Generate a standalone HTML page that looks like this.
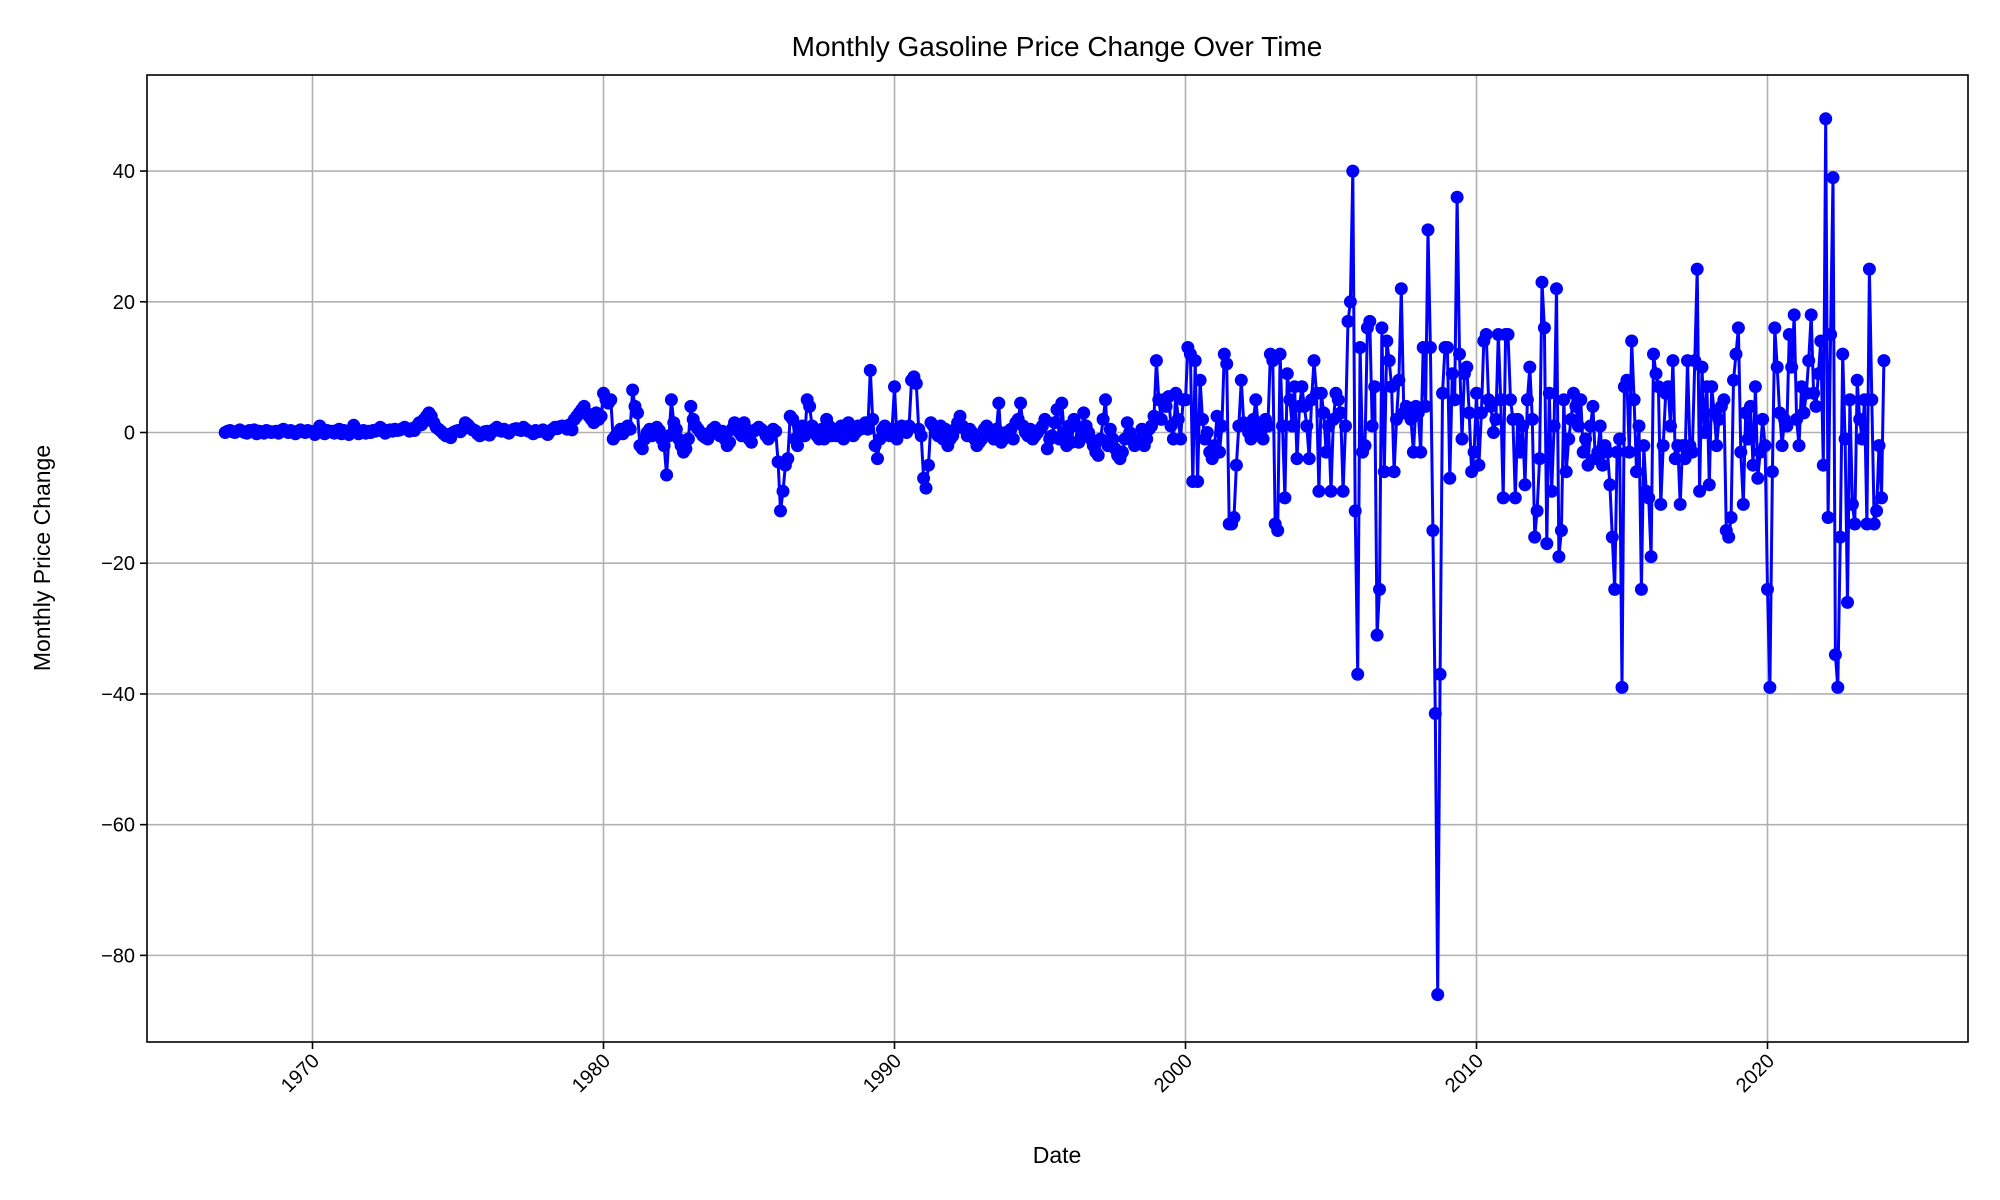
<!DOCTYPE html>
<html><head><meta charset="utf-8"><style>
html,body{margin:0;padding:0;background:#fff;}
svg{display:block;font-family:"Liberation Sans","DejaVu Sans",sans-serif;}
</style></head><body>
<svg id="chart" width="2000" height="1200" viewBox="0 0 2000 1200">
<rect width="2000" height="1200" fill="#fff"/>
<g id="grid"></g>
<g id="series"></g>
<rect x="147" y="75" width="1821" height="967" fill="none" stroke="#000" stroke-width="1.6"/>
<g id="axes"></g>
<text x="1057" y="56" text-anchor="middle" font-size="28">Monthly Gasoline Price Change Over Time</text>
<text x="1057" y="1163" text-anchor="middle" font-size="23">Date</text>
<text x="0" y="0" transform="translate(50,558) rotate(-90)" text-anchor="middle" font-size="23">Monthly Price Change</text>
</svg>
<script>
const startYear = 1967;
const yTicks = [-80,-60,-40,-20,0,20,40];
const xTicks = [1970,1980,1990,2000,2010,2020];
const xTickLabels = ["1970","1980","1990","2000","2010","2020"];
const changes = [
0,0.2,0.3,0.1,0,0.2,0.4,0.2,0,-0.1,0.3,0.2,
0.4,-0.2,0.2,0.1,-0.1,0.3,0.2,0,0.1,0.2,-0.1,0.3,
0.5,0.2,0,0.3,0.1,-0.2,0.2,0.4,0.1,0,0.3,0.2,
0.1,-0.3,0.2,1,0.4,-0.2,0.3,0.1,0.2,-0.1,0.3,0.5,
-0.2,0.3,0.1,-0.3,0.2,1.1,0.5,-0.2,0.1,0.3,-0.1,0.2,
0,0.3,0.2,0.5,0.8,0.2,-0.1,0.3,0.4,0.2,0.5,0.3,
0.4,0.6,0.8,0.5,0.2,0.6,0.3,1,1.5,1.2,2,2.5,
3,2.5,1.5,0.8,0.5,0.2,-0.2,-0.5,-0.3,-0.8,0,0.2,
0.3,0.1,0.5,1.5,1.2,0.8,0.4,0.3,-0.2,-0.5,-0.3,0.1,
0.2,-0.4,0.1,0.5,0.8,0.3,0.2,0.5,0.1,-0.1,0.3,0.5,
0.6,0.4,0.3,0.8,0.5,0.2,0.1,-0.2,0.3,0.1,0.2,0.4,
0,-0.3,0.2,0.5,0.8,0.6,0.9,1,0.8,0.5,1.2,0.4,
2,2.5,3,3.5,4,3,2.5,2,1.5,3,2,2.5,
6,5,4.5,5,-1,-0.5,0,0.5,-0.2,0.3,1,0.5,
6.5,4,3,-2,-2.5,-1,0,0.5,-0.5,0.2,0.8,0.3,
-1,-2,-6.5,-0.5,5,1.5,0.5,-1,-2,-3,-2.5,-1,
4,2,1,0.5,0,-0.5,-0.8,-1,0,0.5,0.8,-0.2,
-0.5,0.2,-1,-2,-1.5,0.5,1.5,0.8,0,-0.5,1.5,0.5,
-1,-1.5,0.2,0.5,0.8,0.5,0.2,-0.5,-1,-0.5,0.5,0.2,
-4.5,-12,-9,-5,-4,2.5,2,-1,-2,0.5,1,-0.5,
5,4,1,0,-0.5,-1,0.5,-1,2,1,-0.5,0.5,
-0.5,0,1,-1,0.5,1.5,0.5,-0.5,0,1,0.5,1,
1.5,0.5,9.5,2,-2,-4,-1,0.5,1,0,-0.5,0.5,
7,-1,0.5,1,0.5,0,1,8,8.5,7.5,0.5,-0.5,
-7,-8.5,-5,1.5,1,0,-0.5,1,-1,0.5,-2,-1,
-0.5,0.5,1.5,2.5,1,0.5,-0.5,0.5,0,-1,-2,-1.5,
-1,0.5,1,0,-0.5,-1,0.5,4.5,-1.5,-1,0,-0.5,
0.5,-1,1.5,2,4.5,1,0,-0.5,0.5,-1,-0.5,0,
0.5,1,2,-2.5,-1,-0.5,1.5,3.5,-1,4.5,0,-2,
1,-1.5,2,1,-1.5,-0.5,3,1,0,-1,-2,-3,
-3.5,-1,2,5,-2,0.5,-1,-2.5,-3.5,-4,-3,-1,
1.5,0,-1,-2,-1.5,-1,0.5,-2,-1,0.5,1,2.5,
11,5,2,5,4,5.5,1,-1,6,2,-1,5,
5,13,12,-7.5,11,-7.5,8,2,-1,0,-3,-4,
-2,2.5,-3,1,12,10.5,-14,-14,-13,-5,1,8,
1.5,1,0,-1,2,5,1,0,-1,2,1,12,
11,-14,-15,12,1,-10,9,5,1,7,-4,4,
7,4,1,-4,5,11,6,-9,6,3,-3,1,
-9,2,6,5,3,-9,1,17,20,40,-12,-37,
13,-3,-2,16,17,1,7,-31,-24,16,-6,14,
11,7,-6,2,8,22,3,4,3,2,-3,4,
3,-3,13,4,31,13,-15,-43,-86,-37,6,13,
13,-7,9,5,36,12,-1,9,10,3,-6,-3,
6,-5,3,14,15,5,4,0,2,15,5,-10,
15,15,5,2,-10,2,-3,1,-8,5,10,2,
-16,-12,-4,23,16,-17,6,-9,1,22,-19,-15,
5,-6,-1,2,6,4,1,5,-3,-1,-5,1,
4,-4,-3,1,-5,-2,-3,-8,-16,-24,-3,-1,
-39,7,8,-3,14,5,-6,1,-24,-2,-9,-10,
-19,12,9,7,-11,-2,6,7,1,11,-4,-2,
-11,-2,-4,11,-2,-3,11,25,-9,10,0,7,
-8,7,3,-2,2,4,5,-15,-16,-13,8,12,
16,-3,-11,3,-1,4,-5,7,-7,-3,2,-2,
-24,-39,-6,16,10,3,-2,2,1,15,10,18,
2,-2,7,3,6,11,18,6,4,9,14,-5,
48,-13,15,39,-34,-39,-16,12,-1,-26,5,-11,
-14,8,2,-1,5,-14,25,5,-14,-12,-2,-10,
11
];
const NS = "http://www.w3.org/2000/svg";
const L = 147, R = 1968, T = 75, B = 1042;
function xScale(yr){ return 312.5 + (yr - 1970) * 29.1; }
function yScale(v){ return 432.5 - v * 6.536; }
function mk(tag, attrs, parent){ const e = document.createElementNS(NS, tag); for (const k in attrs) e.setAttribute(k, attrs[k]); parent.appendChild(e); return e; }
const grid = document.getElementById('grid');
const axes = document.getElementById('axes');
yTicks.forEach(v => {
  const y = yScale(v);
  const g = mk('line', {x1:L, x2:R, y1:y, y2:y, stroke:'#b0b0b0', 'stroke-width':1.6}, grid);
  
  
  const t = mk('line', {x1:L-7, x2:L, y1:y, y2:y, stroke:'#000', 'stroke-width':1.6}, axes);
  
  
  const lb = mk('text', {x:L-12, y:y+7, 'text-anchor':'end', 'font-size':20}, axes);
  lb.textContent = v < 0 ? '\u2212' + Math.abs(v) : String(v);
  
  
});
xTicks.forEach((yr, i) => {
  const x = xScale(yr);
  const g = mk('line', {x1:x, x2:x, y1:T, y2:B, stroke:'#b0b0b0', 'stroke-width':1.6}, grid);
  
  
  const t = mk('line', {x1:x, x2:x, y1:B, y2:B+7, stroke:'#000', 'stroke-width':1.6}, axes);
  
  
  const lb = mk('text', {x:0, y:0, 'text-anchor':'end', 'font-size':20, transform:`translate(${x+8},${B+20}) rotate(-45)`}, axes);
  lb.textContent = xTickLabels[i];
  
  
});
const series = document.getElementById('series');
const pts = changes.map((v, i) => [xScale(startYear + i / 12), yScale(v)]);
const line = mk('polyline', {points: pts.map(p => p[0].toFixed(1) + ',' + p[1].toFixed(1)).join(' '), fill:'none', stroke:'#0000ff', 'stroke-width':3, 'stroke-linejoin':'round'}, series);


pts.forEach(p => {
  const c = mk('circle', {cx:p[0].toFixed(1), cy:p[1].toFixed(1), r:6.5, fill:'#0000ff'}, series);
  
  
});
</script>
</body></html>
